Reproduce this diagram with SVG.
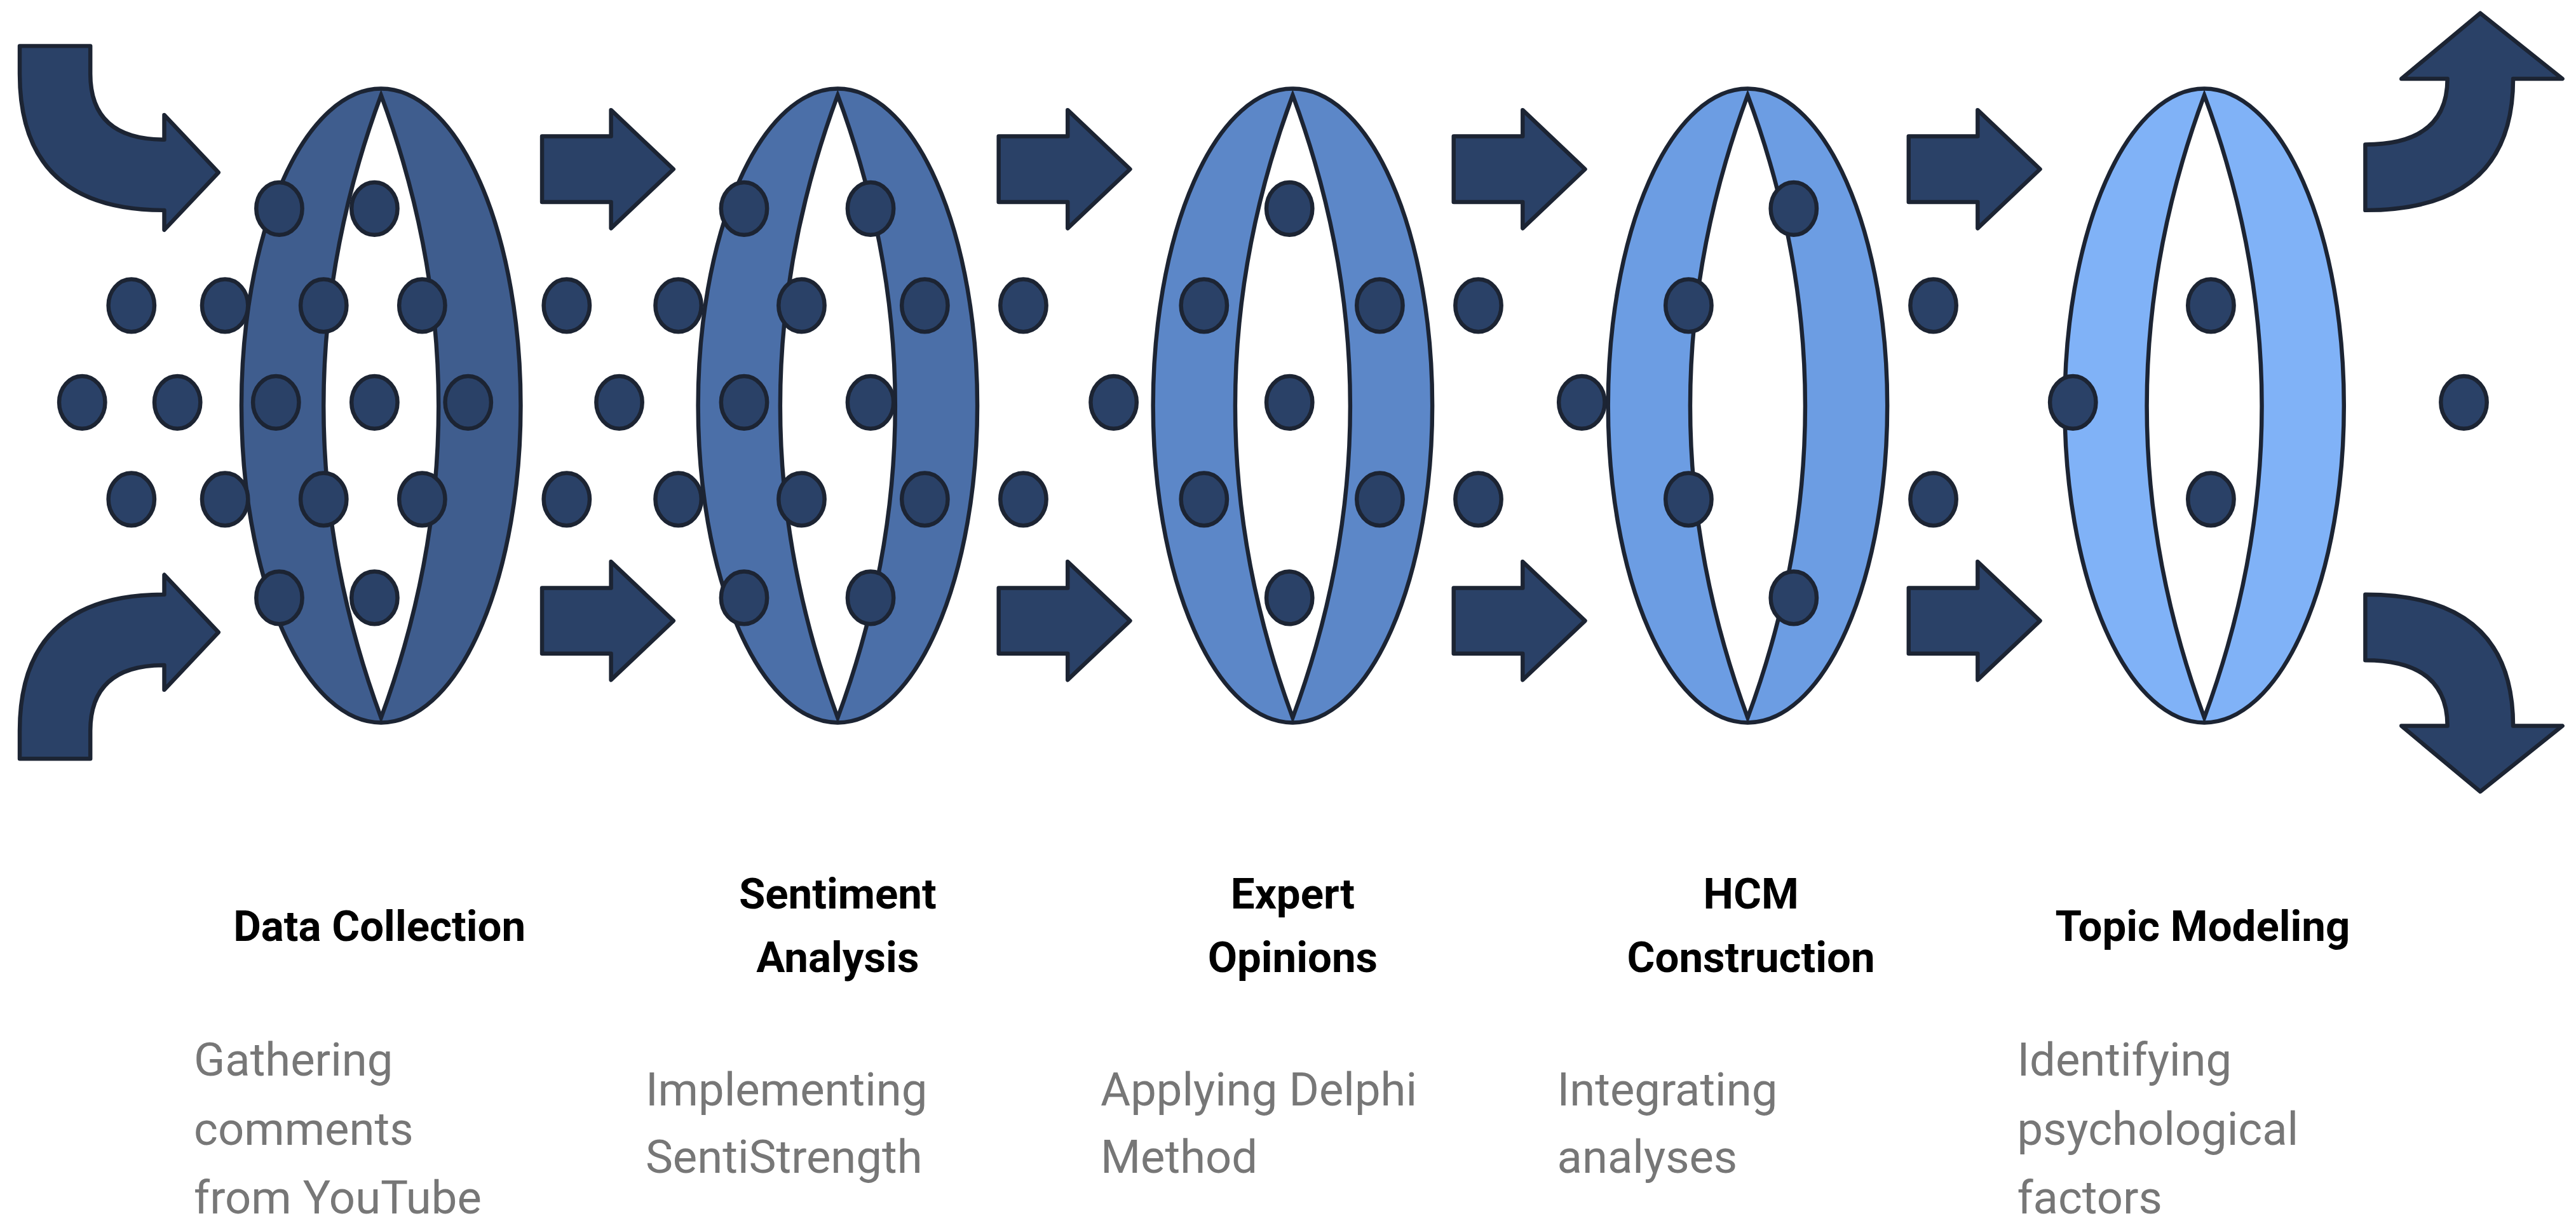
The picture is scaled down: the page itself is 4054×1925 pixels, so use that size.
<svg xmlns="http://www.w3.org/2000/svg" width="4054" height="1925" viewBox="0 0 4054 1925">
<defs>
<style>
.ar{fill:#2a4167;stroke:#1c2433;stroke-width:2.5;stroke-linejoin:round}
.dot{fill:#2a4167;stroke:#1c2433;stroke-width:2.5}
.rg{stroke:#1c2433;stroke-width:2.5}
.lens{fill:#fff;stroke:#1c2433;stroke-width:2.5}
.t{font-family:Roboto,"Liberation Sans",sans-serif;font-weight:700;font-size:26px;fill:#000;text-anchor:middle}
.d{font-family:Roboto,"Liberation Sans",sans-serif;font-size:28px;fill:#777}
</style>
<path id="str" d="M0,-20 L42,-20 L42,-36 L80,0 L42,36 L42,20 L0,20 Z"/>
<g id="ring">
<ellipse cx="0" cy="0" rx="85" ry="193"/>
</g>
</defs>
<rect width="4054" height="1925" fill="#fff"/>
<g transform="scale(2.585)">
<g id="rings">
<g id="ring1"><ellipse class="rg" cx="232" cy="247" rx="85" ry="193" fill="#3f5d8e"/><path class="lens" d="M232,58 Q162,247 232,437 Q302,247 232,58 Z"/></g>
<g id="ring2"><ellipse class="rg" cx="510" cy="247" rx="85" ry="193" fill="#4b6fa8"/><path class="lens" d="M510,58 Q440,247 510,437 Q580,247 510,58 Z"/></g>
<g id="ring3"><ellipse class="rg" cx="787" cy="247" rx="85" ry="193" fill="#5c87c8"/><path class="lens" d="M787,58 Q717,247 787,437 Q857,247 787,58 Z"/></g>
<g id="ring4"><ellipse class="rg" cx="1064" cy="247" rx="85" ry="193" fill="#6c9de3"/><path class="lens" d="M1064,58 Q994,247 1064,437 Q1134,247 1064,58 Z"/></g>
<g id="ring5"><ellipse class="rg" cx="1342" cy="247" rx="85" ry="193" fill="#80b2f7"/><path class="lens" d="M1342,58 Q1272,247 1342,437 Q1412,247 1342,58 Z"/></g>
</g>
<g id="dots">
<g class="dot">
<ellipse cx="170" cy="127" rx="14" ry="16"/><ellipse cx="228" cy="127" rx="14" ry="16"/><ellipse cx="453" cy="127" rx="14" ry="16"/><ellipse cx="530" cy="127" rx="14" ry="16"/><ellipse cx="785" cy="127" rx="14" ry="16"/><ellipse cx="1092" cy="127" rx="14" ry="16"/>
<ellipse cx="80" cy="186" rx="14" ry="16"/><ellipse cx="137" cy="186" rx="14" ry="16"/><ellipse cx="197" cy="186" rx="14" ry="16"/><ellipse cx="257" cy="186" rx="14" ry="16"/><ellipse cx="345" cy="186" rx="14" ry="16"/><ellipse cx="413" cy="186" rx="14" ry="16"/><ellipse cx="488" cy="186" rx="14" ry="16"/><ellipse cx="563" cy="186" rx="14" ry="16"/><ellipse cx="623" cy="186" rx="14" ry="16"/><ellipse cx="733" cy="186" rx="14" ry="16"/><ellipse cx="840" cy="186" rx="14" ry="16"/><ellipse cx="900" cy="186" rx="14" ry="16"/><ellipse cx="1028" cy="186" rx="14" ry="16"/><ellipse cx="1177" cy="186" rx="14" ry="16"/><ellipse cx="1346" cy="186" rx="14" ry="16"/>
<ellipse cx="50" cy="245" rx="14" ry="16"/><ellipse cx="108" cy="245" rx="14" ry="16"/><ellipse cx="168" cy="245" rx="14" ry="16"/><ellipse cx="228" cy="245" rx="14" ry="16"/><ellipse cx="285" cy="245" rx="14" ry="16"/><ellipse cx="377" cy="245" rx="14" ry="16"/><ellipse cx="453" cy="245" rx="14" ry="16"/><ellipse cx="530" cy="245" rx="14" ry="16"/><ellipse cx="678" cy="245" rx="14" ry="16"/><ellipse cx="785" cy="245" rx="14" ry="16"/><ellipse cx="963" cy="245" rx="14" ry="16"/><ellipse cx="1262" cy="245" rx="14" ry="16"/><ellipse cx="1500" cy="245" rx="14" ry="16"/>
<ellipse cx="80" cy="304" rx="14" ry="16"/><ellipse cx="137" cy="304" rx="14" ry="16"/><ellipse cx="197" cy="304" rx="14" ry="16"/><ellipse cx="257" cy="304" rx="14" ry="16"/><ellipse cx="345" cy="304" rx="14" ry="16"/><ellipse cx="413" cy="304" rx="14" ry="16"/><ellipse cx="488" cy="304" rx="14" ry="16"/><ellipse cx="563" cy="304" rx="14" ry="16"/><ellipse cx="623" cy="304" rx="14" ry="16"/><ellipse cx="733" cy="304" rx="14" ry="16"/><ellipse cx="840" cy="304" rx="14" ry="16"/><ellipse cx="900" cy="304" rx="14" ry="16"/><ellipse cx="1028" cy="304" rx="14" ry="16"/><ellipse cx="1177" cy="304" rx="14" ry="16"/><ellipse cx="1346" cy="304" rx="14" ry="16"/>
<ellipse cx="170" cy="364" rx="14" ry="16"/><ellipse cx="228" cy="364" rx="14" ry="16"/><ellipse cx="453" cy="364" rx="14" ry="16"/><ellipse cx="530" cy="364" rx="14" ry="16"/><ellipse cx="785" cy="364" rx="14" ry="16"/><ellipse cx="1092" cy="364" rx="14" ry="16"/>
</g>
</g>
<g id="connectors" class="ar">
<path d="M12,28 L55,28 L55,45 Q55,85 100,85 L100,70 L133,105 L100,140 L100,128 Q12,128 12,45 Z"/>
<path d="M12,462 L55,462 L55,445 Q55,405 100,405 L100,420 L133,385 L100,350 L100,362 Q12,362 12,445 Z"/>
<use href="#str" x="330" y="103"/><use href="#str" x="608" y="103"/><use href="#str" x="885" y="103"/><use href="#str" x="1162" y="103"/>
<use href="#str" x="330" y="378"/><use href="#str" x="608" y="378"/><use href="#str" x="885" y="378"/><use href="#str" x="1162" y="378"/>
<path d="M1440,88 Q1490,88 1490,48 L1462,48 L1510,8 L1560,48 L1530,48 Q1530,128 1440,128 Z"/>
<path d="M1440,402 Q1490,402 1490,442 L1462,442 L1510,482 L1560,442 L1530,442 Q1530,362 1440,362 Z"/>
</g>
<g id="labels">
<text class="t" x="231" y="573">Data Collection</text>
<text class="t" x="510" y="553">Sentiment</text><text class="t" x="510" y="592">Analysis</text>
<text class="t" x="787" y="553">Expert</text><text class="t" x="787" y="592">Opinions</text>
<text class="t" x="1066" y="553">HCM</text><text class="t" x="1066" y="592">Construction</text>
<text class="t" x="1341" y="573">Topic Modeling</text>
<text class="d" x="118" y="655">Gathering</text><text class="d" x="118" y="697">comments</text><text class="d" x="118" y="739">from YouTube</text>
<text class="d" x="393" y="673">Implementing</text><text class="d" x="393" y="714">SentiStrength</text>
<text class="d" x="670" y="673">Applying Delphi</text><text class="d" x="670" y="714">Method</text>
<text class="d" x="948" y="673">Integrating</text><text class="d" x="948" y="714">analyses</text>
<text class="d" x="1228" y="655">Identifying</text><text class="d" x="1228" y="697">psychological</text><text class="d" x="1228" y="739">factors</text>
</g>
</g>
</svg>
